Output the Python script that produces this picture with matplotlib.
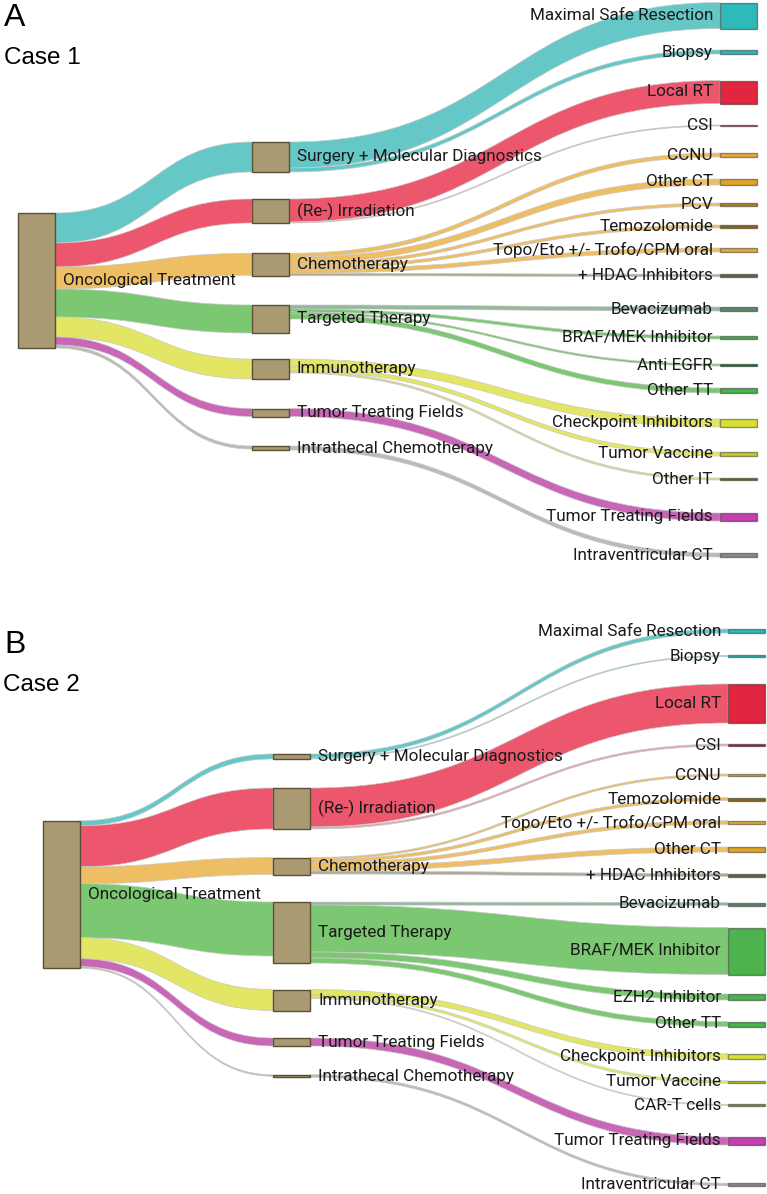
import matplotlib
matplotlib.use("Agg")
import matplotlib.pyplot as plt
from matplotlib.path import Path
from matplotlib.patches import PathPatch, Rectangle

# ---- data (flow widths, arbitrary units) ----
ROOT = "Oncological Treatment"
MIDDLE = ["Surgery + Molecular Diagnostics", "(Re-) Irradiation", "Chemotherapy",
          "Targeted Therapy", "Immunotherapy", "Tumor Treating Fields",
          "Intrathecal Chemotherapy"]

# Case 1
A_ROOT_FLOW = [30, 24, 22, 28, 20, 8, 3]
A_LEAVES = ["Maximal Safe Resection", "Biopsy", "Local RT", "CSI", "CCNU", "Other CT", "PCV",
            "Temozolomide", "Topo/Eto +/- Trofo/CPM oral", "+ HDAC Inhibitors", "Bevacizumab",
            "BRAF/MEK Inhibitor", "Anti EGFR", "Other TT", "Checkpoint Inhibitors",
            "Tumor Vaccine", "Other IT", "Tumor Treating Fields", "Intraventricular CT"]
A_LEAF_SRC = [0, 0, 1, 1, 2, 2, 2, 2, 2, 2, 3, 3, 3, 3, 4, 4, 4, 5, 6]
A_LEAF_FLOW = [26, 4, 23, 1, 4, 6, 3, 3, 4, 2.5, 4, 3, 2, 5, 8, 4, 2, 8, 4]

# Case 2
B_ROOT_FLOW = [5, 41, 17, 54, 21, 8, 1.5]
B_LEAVES = ["Maximal Safe Resection", "Biopsy", "Local RT", "CSI", "CCNU", "Temozolomide",
            "Topo/Eto +/- Trofo/CPM oral", "Other CT", "+ HDAC Inhibitors", "Bevacizumab",
            "BRAF/MEK Inhibitor", "EZH2 Inhibitor", "Other TT", "Checkpoint Inhibitors",
            "Tumor Vaccine", "CAR-T cells", "Tumor Treating Fields", "Intraventricular CT"]
B_LEAF_SRC = [0, 0, 1, 1, 2, 2, 2, 2, 2, 3, 3, 3, 3, 4, 4, 4, 5, 6]
B_LEAF_FLOW = [4, 1, 39, 2, 2, 3, 3.5, 5, 3, 3, 47, 6, 5, 5.5, 2.5, 1, 8, 2.5]

# ---- styles ----
NODE_FC, NODE_EC = "#a99a72", "#5a4f36"
MID_LINK = ["#5ec5c3", "#ec4e66", "#edbb5b", "#74c46a", "#e1e55c", "#c45fb2", "#b9b7b1"]
LEAF_COLOR = {
    "Maximal Safe Resection": "#2fb9b8", "Biopsy": "#2fb9b8", "Local RT": "#e3263f",
    "CSI": "#b0263a", "CCNU": "#e8aa3c", "Other CT": "#e0a42a", "PCV": "#b7862a",
    "Temozolomide": "#8c6b23", "Topo/Eto +/- Trofo/CPM oral": "#e8aa3c",
    "+ HDAC Inhibitors": "#6c664c", "Bevacizumab": "#5f8a6c", "BRAF/MEK Inhibitor": "#4db34f",
    "Anti EGFR": "#1f7a31", "EZH2 Inhibitor": "#4db34f", "Other TT": "#4db34f",
    "Checkpoint Inhibitors": "#d9e033", "Tumor Vaccine": "#c9cc2a", "Other IT": "#6d7a1f",
    "CAR-T cells": "#8a9a40", "Tumor Treating Fields": "#c043ad", "Intraventricular CT": "#8d8c88"}
LINK_OVERRIDE = {"CSI": "#dca3ab", "+ HDAC Inhibitors": "#aaa690", "Bevacizumab": "#8fb398",
                 "Other IT": "#d3d68c", "CAR-T cells": "#d3d68c"}

# ---- layout (pixel frame) ----
A_LAYOUT = dict(x=(18, 252, 720), w=37, root_c=280.5,
                mid_c=[157, 211, 264.5, 319, 369, 412.5, 448],
                leaf_c=[15.5, 52, 92, 125.5, 155, 182, 204.5, 226.5, 250, 275.5, 309, 337.5,
                        365, 390.5, 423, 454, 479, 517, 555])
B_LAYOUT = dict(x=(43, 273, 728), w=37, root_c=894.5,
                mid_c=[756.5, 808.5, 866, 932.5, 1000, 1042, 1076],
                leaf_c=[631, 656, 703.5, 745, 775, 799, 822.5, 849.5, 875, 904, 951, 997, 1024,
                        1056.5, 1082, 1105, 1141, 1184.5])

LABEL_FONT = "Roboto"
LABEL_SIZE = 12.3


def band(ax, x0, y0, x1, y1, h, color):
    xm = (x0 + x1) / 2
    verts = [(x0, y0), (xm, y0), (xm, y1), (x1, y1), (x1, y1 + h),
             (xm, y1 + h), (xm, y0 + h), (x0, y0 + h), (x0, y0)]
    codes = [Path.MOVETO, Path.CURVE4, Path.CURVE4, Path.CURVE4, Path.LINETO,
             Path.CURVE4, Path.CURVE4, Path.CURVE4, Path.CLOSEPOLY]
    ax.add_patch(PathPatch(Path(verts, codes), fc=color, ec="#c8c8c8", lw=0.5,
                           alpha=0.95, zorder=1))


def node(ax, x, yc, w, h, fc, ec):
    ax.add_patch(Rectangle((x, yc - h / 2), w, h, fc=fc, ec=ec, lw=1.0, zorder=2))


def draw_panel(ax, root_flow, leaves, leaf_src, leaf_flow, lay):
    xr, xm, xl = lay["x"]
    w = lay["w"]
    n_mid = len(MIDDLE)
    mid_out = [sum(f for s, f in zip(leaf_src, leaf_flow) if s == i) for i in range(n_mid)]
    mid_h = [max(a, b) for a, b in zip(root_flow, mid_out)]
    root_h = sum(root_flow)
    leaf_h = list(leaf_flow)

    # root -> middle
    top_root = lay["root_c"] - root_h / 2
    for i, f in enumerate(root_flow):
        y1 = lay["mid_c"][i] - mid_h[i] / 2
        band(ax, xr + w, top_root, xm, y1, f, MID_LINK[i])
        top_root += f
    # middle -> leaves
    mid_cursor = [c - h / 2 for c, h in zip(lay["mid_c"], mid_h)]
    for j, (s, f) in enumerate(zip(leaf_src, leaf_flow)):
        col = LINK_OVERRIDE.get(leaves[j], MID_LINK[s])
        y1 = lay["leaf_c"][j] - leaf_h[j] / 2
        band(ax, xm + w, mid_cursor[s], xl, y1, f, col)
        mid_cursor[s] += f

    # nodes
    node(ax, xr, lay["root_c"], w, root_h, NODE_FC, NODE_EC)
    for i in range(n_mid):
        node(ax, xm, lay["mid_c"][i], w, mid_h[i], NODE_FC, NODE_EC)
    for j, name in enumerate(leaves):
        fc = LEAF_COLOR[name]
        node(ax, xl, lay["leaf_c"][j], w, max(leaf_h[j], 1.2), fc, "#00000066")

    # labels
    kw = dict(fontsize=LABEL_SIZE, family=LABEL_FONT, color="#1a1a1a", va="center", zorder=3)
    ax.text(xr + w + 8, lay["root_c"], ROOT, ha="left", **kw)
    for i, name in enumerate(MIDDLE):
        ax.text(xm + w + 8, lay["mid_c"][i], name, ha="left", **kw)
    for j, name in enumerate(leaves):
        ax.text(xl - 7, lay["leaf_c"][j], name, ha="right", **kw)


fig = plt.figure(figsize=(7.67, 11.94), dpi=100)
ax = fig.add_axes([0, 0, 1, 1])
ax.set_xlim(0, 767)
ax.set_ylim(1194, 0)
ax.axis("off")

draw_panel(ax, A_ROOT_FLOW, A_LEAVES, A_LEAF_SRC, A_LEAF_FLOW, A_LAYOUT)
draw_panel(ax, B_ROOT_FLOW, B_LEAVES, B_LEAF_SRC, B_LEAF_FLOW, B_LAYOUT)

pk = dict(family="Liberation Sans", color="black", ha="left", va="center")
ax.text(4, 18, "A", fontsize=23, **pk)
ax.text(4, 58, "Case 1", fontsize=17.5, **pk)
ax.text(4, 645, "B", fontsize=23, **pk)
ax.text(3, 685, "Case 2", fontsize=17.5, **pk)

fig.savefig("out.png", dpi=100)
